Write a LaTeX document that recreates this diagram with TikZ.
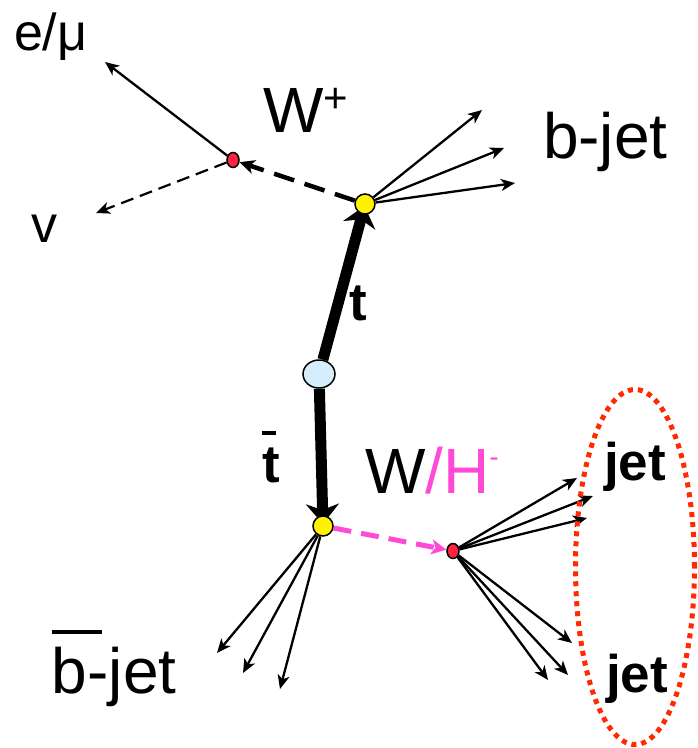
\documentclass[tikz,border=0pt]{standalone}
\usepackage{fontspec}
\setmainfont{Liberation Sans}
\usetikzlibrary{arrows.meta,shapes.geometric,backgrounds}
\definecolor{magentaH}{HTML}{FF4AD8}
\definecolor{dotred}{HTML}{FF2340}
\definecolor{ovalred}{HTML}{FF2A00}
\definecolor{ttblue}{HTML}{D6EEFB}
\begin{document}
\begin{tikzpicture}[x=1pt,y=-1pt,
  vtx/.style={circle,draw,line width=1.5pt,fill=yellow,minimum size=20pt,inner sep=0pt},
  reddot/.style={ellipse,draw,line width=1.5pt,fill=dotred,minimum width=12pt,minimum height=15pt,inner sep=0pt},
  prodvtx/.style={ellipse,draw,line width=1.5pt,fill=ttblue,minimum width=32pt,minimum height=28pt,inner sep=0pt},
  track/.style={line width=2.3pt,-{Stealth[length=14pt,width=12pt,inset=4pt]}},
  quark/.style={line width=11pt,-{Stealth[length=20pt,width=33pt,inset=6pt]},shorten >=2pt},
  wdash/.style={line width=4.5pt,dash pattern=on 21pt off 11pt,-{Stealth[length=15pt,width=14pt,inset=4pt]}},
  nudash/.style={line width=2.2pt,dash pattern=on 13pt off 7pt,-{Stealth[length=14pt,width=12pt,inset=4pt]}},
  hdash/.style={magentaH,line width=5pt,dash pattern=on 18pt off 10pt,-{Stealth[length=15pt,width=15pt,inset=4pt]}},
  lbl/.style={anchor=base west,inner sep=0pt,outer sep=0pt},
  bigf/.style={lbl,font=\fontsize{64}{70}\selectfont},
  midf/.style={lbl,font=\fontsize{52}{56}\selectfont},
  boldf/.style={lbl,font=\fontsize{53}{56}\selectfont\bfseries}
]
\useasboundingbox (0,0) rectangle (698,748);

% vertices
\node[reddot] (ewd) at (233,160) {};
\node[vtx] (tv) at (365,204) {};
\node[prodvtx] (tt) at (319,374) {};
\node[vtx] (bv) at (323,526) {};
\node[reddot] (hv) at (453,551) {};

% free ends
\coordinate (lep) at (105,62);
\coordinate (nu) at (96,213);
\coordinate (bj1) at (482,110);
\coordinate (bj2) at (504,148);
\coordinate (bj3) at (515,183);
\coordinate (bb1) at (217,653);
\coordinate (bb2) at (243,673);
\coordinate (bb3) at (280,689);
\coordinate (j1) at (577,478);
\coordinate (j2) at (593,496);
\coordinate (j3) at (587,518);
\coordinate (j4) at (572,643);
\coordinate (j5) at (568,675);
\coordinate (j6) at (548,680);

% dotted oval
\node[draw=ovalred,ellipse,line width=5pt,dash pattern=on 5pt off 5pt,
      minimum width=119pt,minimum height=355pt,inner sep=0pt] (oval) at (635,567) {};

\begin{scope}[on background layer]
  \draw[quark] (tt) -- (tv.center);
  \draw[quark] (tt) -- (bv.center);
  \draw[wdash] (tv) -- (ewd);
  \draw[track] (ewd) -- (lep);
  \draw[nudash] (ewd) -- (nu);
  \draw[track] (tv) -- (bj1);
  \draw[track] (tv) -- (bj2);
  \draw[track] (tv) -- (bj3);
  \draw[hdash] (bv) -- (hv);
  \draw[track] (bv) -- (bb1);
  \draw[track] (bv) -- (bb2);
  \draw[track] (bv) -- (bb3);
  \draw[track] (hv) -- (j1);
  \draw[track] (hv) -- (j2);
  \draw[track] (hv) -- (j3);
  \draw[track] (hv) -- (j4);
  \draw[track] (hv) -- (j5);
  \draw[track] (hv) -- (j6);
\end{scope}

% labels
\node[midf] (lmu) at (14,50) {e/μ};
\node[midf] (lnu) at (31,242) {v};
\node[bigf] (lW) at (263,132) {W\raisebox{20pt}{\fontsize{42}{42}\selectfont +}};
\node[bigf] (lbj) at (543,158) {b-jet};
\node[boldf] (lt) at (349,320) {t};
\node[boldf] (ltb) at (262,482) {\makebox[0pt][l]{\raisebox{47pt}{\rule{14pt}{4pt}}}t};
\node[bigf] (lWH) at (365,493) {W\textcolor{magentaH}{/H\raisebox{27pt}{\fontsize{28}{28}\selectfont -}}};
\node[bigf] (lbbj) at (52,693) {\makebox[0pt][l]{\raisebox{59pt}{\rule{50pt}{4pt}}}b-jet};
\node[boldf] (ljet1) at (604,480) {jet};
\node[boldf] (ljet2) at (606,692) {jet};
\end{tikzpicture}
\end{document}
